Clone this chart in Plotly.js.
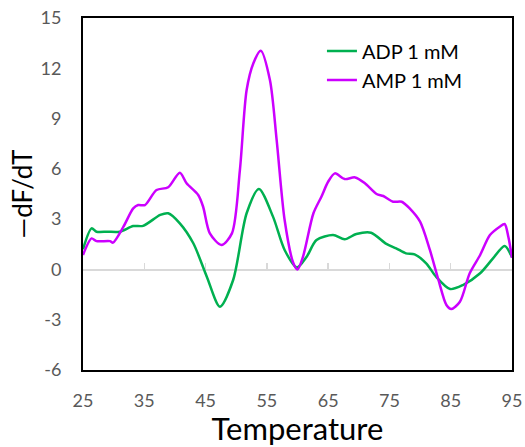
<!DOCTYPE html>
<html>
<head>
<meta charset="utf-8">
<script src="https://cdn.plot.ly/plotly-3.0.1.min.js"></script>
<style>html,body{margin:0;padding:0;background:#fff;}#chart{width:525px;height:447px;}</style>
</head>
<body>
<div id="chart"></div>
<script>
var adpTemp = [25, 26.4, 27.2, 29, 31, 33.2, 34.8, 37.6, 38.9, 40.8, 43.0, 45.2, 47.35, 49.5, 51.7, 53.7, 56.0, 57.9, 59.9, 61.5, 63.1, 65.8, 67.7, 69.6, 72.0, 74.5, 76.1, 77.7, 79.1, 81.0, 82.6, 84.9, 87.0, 89.8, 91.9, 93.8, 95];
var adpVals = [1.2, 2.45, 2.25, 2.25, 2.25, 2.59, 2.6, 3.25, 3.35, 2.75, 1.56, -0.43, -2.22, -0.63, 3.35, 4.8, 3.15, 1.16, 0.12, 0.76, 1.75, 2.05, 1.8, 2.11, 2.19, 1.52, 1.26, 0.96, 0.9, 0.36, -0.43, -1.17, -0.93, -0.23, 0.66, 1.4, 0.72];

var ampTemp = [25, 26.4, 27.2, 29.4, 29.9, 31.6, 33.2, 34.0, 35.1, 37.0, 38.9, 40.8, 41.9, 43.8, 44.6, 45.7, 47.6, 49.3, 50.6, 51.7, 52.8, 54.0, 55.5, 56.6, 57.9, 59.3, 60.0, 60.9, 62.6, 63.9, 65.0, 66.1, 67.7, 69.4, 71.0, 72.9, 74.0, 75.6, 77.0, 78.3, 80.0, 81.6, 83.0, 84.3, 85.1, 86.5, 88.1, 89.8, 91.4, 93.0, 93.8, 94.4, 95];
var ampVals = [0.86, 1.85, 1.69, 1.69, 1.6, 2.55, 3.64, 3.84, 3.84, 4.74, 4.9, 5.77, 5.14, 4.44, 3.74, 2.15, 1.46, 2.15, 5.93, 10.7, 12.3, 13.05, 11.3, 7.72, 2.95, 0.4, 0.0, 0.76, 3.35, 4.34, 5.23, 5.73, 5.39, 5.49, 5.14, 4.5, 4.38, 4.04, 4.04, 3.64, 2.85, 1.16, -0.63, -2.12, -2.36, -1.93, -0.23, 0.86, 2.05, 2.55, 2.71, 1.95, 0.7];

var seriesNames = ['ADP 1 mM', 'AMP 1 mM'];
var xTicks = [25, 35, 45, 55, 65, 75, 85, 95];
var yTicks = [-6, -3, 0, 3, 6, 9, 12, 15];

var FONT = 'Lato, "Open Sans", sans-serif';

var traces = [
  {x: [], y: [], xaxis: 'x2', yaxis: 'y', type: 'scatter', mode: 'lines', showlegend: false, hoverinfo: 'skip'},
  {x: adpTemp, y: adpVals, name: seriesNames[0], type: 'scatter', mode: 'lines',
   line: {color: '#00b050', width: 2.5, shape: 'spline', smoothing: 0.8}},
  {x: ampTemp, y: ampVals, name: seriesNames[1], type: 'scatter', mode: 'lines',
   line: {color: '#cc00ff', width: 2.5, shape: 'spline', smoothing: 0.8}}
];

var layout = {
  width: 525, height: 447,
  margin: {l: 83, r: 13, t: 18, b: 77},
  paper_bgcolor: '#fff', plot_bgcolor: '#fff',
  font: {family: FONT, color: '#595959', size: 18},
  showlegend: true,
  legend: {x: 0.557, y: 0.962, xanchor: 'left', yanchor: 'top', bgcolor: 'rgba(0,0,0,0)',
           font: {family: FONT, size: 20, color: '#000'}, tracegroupgap: 0, itemwidth: 30},
  xaxis: {range: [25, 95], tickvals: xTicks, ticktext: xTicks.map(String), showgrid: false, zeroline: false,
          showline: true, linecolor: '#000', linewidth: 2, mirror: true,
          ticks: 'outside', ticklen: 13, tickcolor: 'rgba(0,0,0,0)',
          tickfont: {family: FONT, size: 18, color: '#595959'},
          title: {text: 'Temperature', font: {family: FONT, size: 31, color: '#000'}, standoff: 2}},
  xaxis2: {range: [25, 95], tickvals: xTicks, overlaying: 'x', anchor: 'free', position: 6/21, side: 'bottom',
           showticklabels: false, ticks: 'inside', ticklen: 6, tickwidth: 1.5, tickcolor: '#d9d9d9',
           showline: true, linecolor: '#d9d9d9', linewidth: 1.5, showgrid: false, zeroline: false, layer: 'below traces'},
  yaxis: {range: [-6, 15], tickvals: yTicks, ticktext: yTicks.map(String), showgrid: false, zeroline: false,
          showline: true, linecolor: '#000', linewidth: 2, mirror: true,
          ticks: 'outside', ticklen: 16, tickcolor: 'rgba(0,0,0,0)',
          tickfont: {family: FONT, size: 18, color: '#595959'},
          title: {text: '\u2014dF/dT', font: {family: FONT, size: 26, color: '#000'}, standoff: 0}}
};

Plotly.newPlot('chart', traces, layout, {displayModeBar: false, staticPlot: true});
</script>
</body>
</html>
